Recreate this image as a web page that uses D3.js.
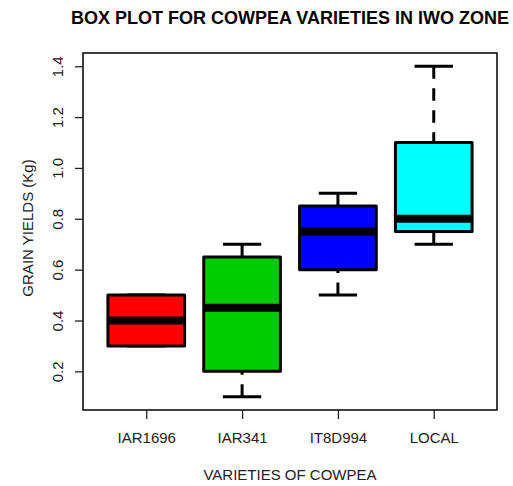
<!DOCTYPE html>
<html lang="en">
<head>
    <meta charset="UTF-8">
    <script src="https://d3js.org/d3.v7.min.js"></script>
    <title>Box plot</title>
    <style>
        body { margin: 0; background: #fff; }
        text { font-family: "Liberation Sans", Arial, sans-serif; }
    </style>
</head>
<body>
    <svg width="513" height="486"></svg>
    <script>
        // five-number summaries
        var varieties = ['IAR1696', 'IAR341', 'IT8D994', 'LOCAL'];
        var minVals = [0.3, 0.1, 0.5, 0.7];
        var q1Vals = [0.3, 0.2, 0.6, 0.75];
        var medVals = [0.4, 0.45, 0.75, 0.8];
        var q3Vals = [0.5, 0.65, 0.85, 1.1];
        var maxVals = [0.5, 0.7, 0.9, 1.4];
        var yTicks = [0.2, 0.4, 0.6, 0.8, 1.0, 1.2, 1.4];

        var boxColors = ['#ff0000', '#00cd00', '#0000ff', '#00ffff'];

        // plot region (note: "top" is taken by window.top)
        var pLeft = 83, pRight = 497, pTop = 53, pBottom = 410;

        var svg = d3.select('svg');

        // R style: index positions 1..n, padded range
        var x = d3.scaleLinear().domain([0.34, 4.66]).range([pLeft, pRight]);
        var y = d3.scaleLinear().domain([0.048, 1.452]).range([pBottom, pTop]);

        var data = varieties.map(function(v, i) {
            return {name: v, i: i + 1, min: minVals[i], q1: q1Vals[i], med: medVals[i],
                    q3: q3Vals[i], max: maxVals[i], color: boxColors[i]};
        });

        var boxHalf = 0.4, capHalf = 0.2;

        var g = svg.append('g');

        // whiskers (dashed), drawn from the extreme towards the box
        g.selectAll('line.whisk')
            .data(data.flatMap(function(d) {
                return [{x: d.i, a: d.max, b: d.q3}, {x: d.i, a: d.min, b: d.q1}];
            }).filter(function(w) { return w.a !== w.b; }))
            .join('line')
            .attr('class', 'whisk')
            .attr('x1', function(w) { return x(w.x); })
            .attr('x2', function(w) { return x(w.x); })
            .attr('y1', function(w) { return y(w.a); })
            .attr('y2', function(w) { return y(w.b); })
            .attr('stroke', '#000')
            .attr('stroke-width', 3)
            .attr('stroke-dasharray', '12.5,9.5');

        // staples
        g.selectAll('line.cap')
            .data(data.flatMap(function(d) {
                return [{x: d.i, v: d.max}, {x: d.i, v: d.min}];
            }))
            .join('line')
            .attr('class', 'cap')
            .attr('x1', function(c) { return x(c.x - capHalf); })
            .attr('x2', function(c) { return x(c.x + capHalf); })
            .attr('y1', function(c) { return y(c.v); })
            .attr('y2', function(c) { return y(c.v); })
            .attr('stroke', '#000')
            .attr('stroke-width', 3);

        // boxes
        g.selectAll('rect.box')
            .data(data)
            .join('rect')
            .attr('class', 'box')
            .attr('x', function(d) { return x(d.i - boxHalf); })
            .attr('width', function(d) { return x(d.i + boxHalf) - x(d.i - boxHalf); })
            .attr('y', function(d) { return y(d.q3); })
            .attr('height', function(d) { return y(d.q1) - y(d.q3); })
            .attr('fill', function(d) { return d.color; })
            .attr('stroke', '#000')
            .attr('stroke-width', 3)
            .attr('stroke-linejoin', 'round');

        // medians
        g.selectAll('line.med')
            .data(data)
            .join('line')
            .attr('class', 'med')
            .attr('x1', function(d) { return x(d.i - boxHalf); })
            .attr('x2', function(d) { return x(d.i + boxHalf); })
            .attr('y1', function(d) { return y(d.med); })
            .attr('y2', function(d) { return y(d.med); })
            .attr('stroke', '#000')
            .attr('stroke-width', 8);

        // frame
        svg.append('rect')
            .attr('x', pLeft).attr('y', pTop)
            .attr('width', pRight - pLeft).attr('height', pBottom - pTop)
            .attr('fill', 'none')
            .attr('stroke', '#000')
            .attr('stroke-width', 1.5);

        // x axis
        var xAxis = svg.append('g')
            .attr('transform', 'translate(0,' + pBottom + ')')
            .call(d3.axisBottom(x)
                .tickValues(data.map(function(d) { return d.i; }))
                .tickFormat(function(v) { return varieties[v - 1]; })
                .tickSize(9)
                .tickPadding(13));
        xAxis.select('.domain').remove();
        xAxis.selectAll('line').attr('stroke', '#222').attr('stroke-width', 1.3);
        xAxis.selectAll('text')
            .attr('font-size', 15)
            .attr('fill', '#222')
            .attr('font-family', '"Liberation Sans", Arial, sans-serif');

        // y axis
        var yAxis = svg.append('g')
            .attr('transform', 'translate(' + pLeft + ',0)')
            .call(d3.axisLeft(y)
                .tickValues(yTicks)
                .tickFormat(d3.format('.1f'))
                .tickSize(8));
        yAxis.select('.domain').remove();
        yAxis.selectAll('line').attr('stroke', '#222').attr('stroke-width', 1.3);
        yAxis.selectAll('text')
            .attr('font-size', 15)
            .attr('fill', '#222')
            .attr('font-family', '"Liberation Sans", Arial, sans-serif')
            .attr('x', null).attr('dy', null)
            .attr('text-anchor', 'middle')
            .attr('transform', 'translate(-20,0) rotate(-90)');

        // titles
        svg.append('text')
            .attr('x', (pLeft + pRight) / 2)
            .attr('y', 24)
            .attr('text-anchor', 'middle')
            .attr('font-size', 18)
            .attr('font-weight', 'bold')
            .attr('fill', '#000')
            .text('BOX PLOT FOR COWPEA VARIETIES IN IWO ZONE');

        svg.append('text')
            .attr('x', (pLeft + pRight) / 2)
            .attr('y', 480)
            .attr('text-anchor', 'middle')
            .attr('font-size', 15)
            .attr('fill', '#222')
            .text('VARIETIES OF COWPEA');

        svg.append('text')
            .attr('transform', 'translate(33,228) rotate(-90)')
            .attr('text-anchor', 'middle')
            .attr('font-size', 15)
            .attr('fill', '#222')
            .text('GRAIN YIELDS (Kg)');
    </script>
</body>
</html>
